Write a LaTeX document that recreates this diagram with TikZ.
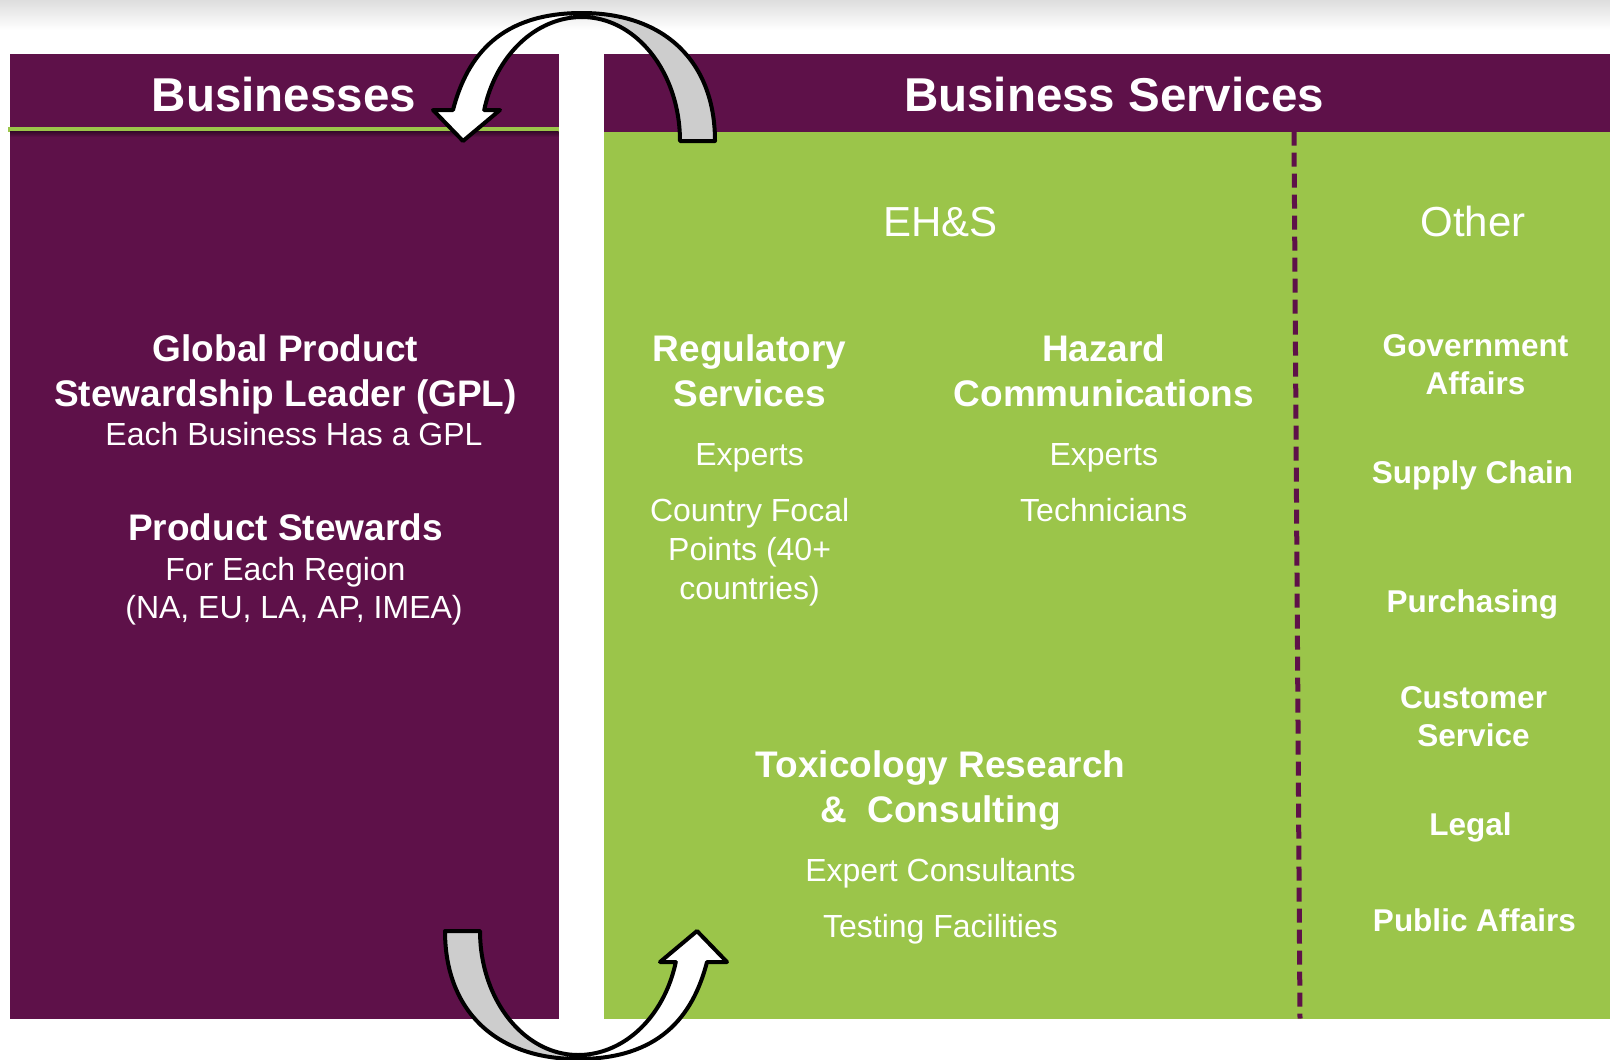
\documentclass[tikz,border=0pt]{standalone}
\usepackage{fontspec}
\setmainfont{Liberation Sans}
\definecolor{plum}{RGB}{94,17,73}
\definecolor{leaf}{RGB}{155,197,74}
\definecolor{arrowgrey}{RGB}{205,205,205}
\tikzset{
  hdr/.style={text=white, font=\fontsize{47.5}{50}\selectfont\bfseries, anchor=base, inner sep=0pt},
  sub/.style={text=white, font=\fontsize{42}{46}\selectfont, anchor=base, inner sep=0pt},
  bigb/.style={text=white, font=\fontsize{37}{40}\selectfont\bfseries, anchor=base, inner sep=0pt},
  reg/.style={text=white, font=\fontsize{32}{36}\selectfont, anchor=base, inner sep=0pt},
  oth/.style={text=white, font=\fontsize{31.5}{34}\selectfont\bfseries, anchor=base, inner sep=0pt},
  arrowpart/.style={draw=black, line width=4pt, line join=round},
}
\newcommand{\loopfig}{%
  \path[arrowpart, fill=arrowgrey]
    (715,141) .. controls (715,61.6) and (664.5,13) .. (582,13) -- (582,17)
    -- plot[domain=90:0, samples=40] ({582+98*cos(\x)},{141-124*sin(\x)}) -- cycle;
  \path[arrowpart, fill=white]
    (582,13) .. controls (502,13) and (467.4,54.2) .. (453,110) -- (433,110) -- (463,141) -- (500,110) -- (484,110)
    -- plot[domain=165.5:90, samples=40] ({582+101*cos(\x)},{141-124*sin(\x)}) -- cycle;
}
\begin{document}
\begin{tikzpicture}[x=1pt, y=-1pt]
\useasboundingbox (0,0) rectangle (1610,1060);
\fill[white] (0,0) rectangle (1610,1060);
\shade[top color=black!13, bottom color=white] (0,0) rectangle (1610,30);

% panels
\fill[plum] (10,54) rectangle (558.5,1018.5);
\fill[leaf] (8,126.7) rectangle (558.5,131.7);
\shade[top color=plum!60!black, bottom color=plum] (10,131.7) rectangle (558.5,137);
\fill[plum] (603.5,54) rectangle (1610,131.7);
\fill[leaf] (603.5,131.7) rectangle (1610,1018.5);

% divider
\coordinate (divtop) at (1294,131.7);
\coordinate (divbot) at (1300,1018.5);
\draw[plum, line width=5pt, dash pattern=on 14pt off 7pt] (divtop) -- (divbot);

% headers
\node[hdr] (hbus) at (284,111) {Businesses};
\node[hdr] (hsrv) at (1114,111) {Business Services};
\node[sub] (ehs) at (940.5,236) {EH\&S};
\node[sub] (oth) at (1473,236) {Other};

% left panel
\node[bigb] (gpl1) at (285.5,361.2) {Global Product};
\node[bigb] (gpl2) at (285.5,406.2) {Stewardship Leader (GPL)};
\node[reg]  (gpl3) at (294,445.5) {Each Business Has a GPL};
\node[bigb] (ps1) at (285.5,540) {Product Stewards};
\node[reg]  (ps2) at (285.5,580.3) {For Each Region};
\node[reg]  (ps3) at (294,618.3) {(NA, EU, LA, AP, IMEA)};

% regulatory
\node[bigb] (rs1) at (749.6,361.2) {Regulatory};
\node[bigb] (rs2) at (749.6,406.2) {Services};
\node[reg]  (rs3) at (749.6,465.3) {Experts};
\node[reg]  (rs4) at (749.6,521.8) {Country Focal};
\node[reg]  (rs5) at (749.6,560.8) {Points (40+};
\node[reg]  (rs6) at (749.6,599.8) {countries)};

% hazard
\node[bigb] (hc1) at (1103.8,361.2) {Hazard};
\node[bigb] (hc2) at (1103.8,406.2) {Communications};
\node[reg]  (hc3) at (1103.8,465.3) {Experts};
\node[reg]  (hc4) at (1103.8,521.8) {Technicians};

% toxicology
\node[bigb] (tx1) at (940.5,777.1) {Toxicology Research};
\node[bigb] (tx2) at (940.5,822.2) {\&\ \ Consulting};
\node[reg]  (tx3) at (940.5,881.2) {Expert Consultants};
\node[reg]  (tx4) at (940.5,937.7) {Testing Facilities};

% other column
\node[oth] (o1) at (1475.5,356.3) {Government};
\node[oth] (o2) at (1475.5,394.3) {Affairs};
\node[oth] (o3) at (1472.4,483.6) {Supply Chain};
\node[oth] (o4) at (1472.4,612) {Purchasing};
\node[oth] (o5) at (1473.5,708.5) {Customer};
\node[oth] (o6) at (1473.5,746.5) {Service};
\node[oth] (o7) at (1470.4,835.8) {Legal};
\node[oth] (o8) at (1474.5,931.3) {Public Affairs};

% curved arrows
\loopfig
\begin{scope}[rotate around={180:(580,536)}]
\loopfig
\end{scope}
\end{tikzpicture}
\end{document}
